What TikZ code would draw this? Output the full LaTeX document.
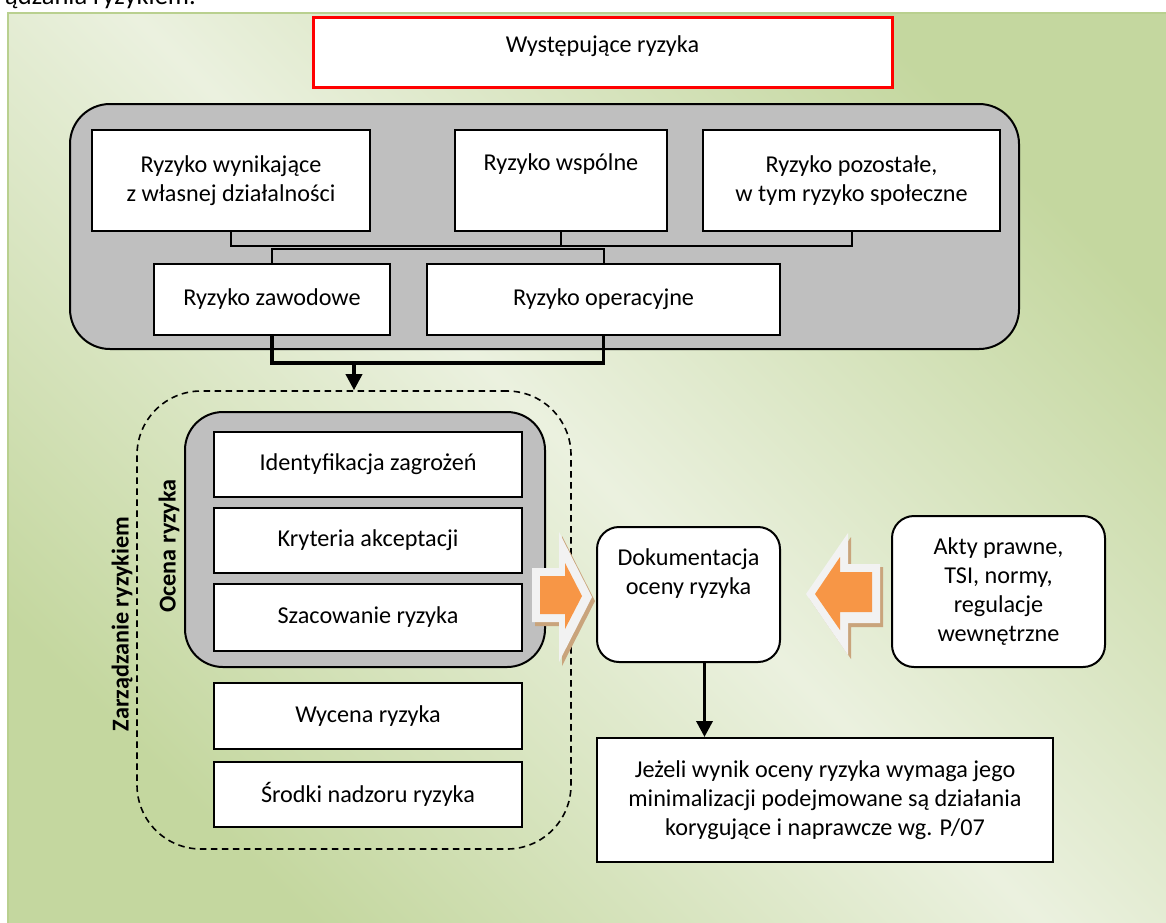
\documentclass[tikz,border=0pt]{standalone}
\usepackage{fontspec}
\setmainfont{Carlito}
\usetikzlibrary{arrows.meta}

\definecolor{bgdark}{HTML}{C4D79F}
\definecolor{bglight}{HTML}{EBF1DF}
\definecolor{framegreen}{HTML}{B9D08F}
\definecolor{panelgray}{HTML}{BFBFBF}
\definecolor{arrowfill}{HTML}{F79646}
\definecolor{arrowrim}{HTML}{F2F2F2}
\definecolor{arrowshadow}{HTML}{C9A47C}

\begin{document}
\begin{tikzpicture}[x=1pt,y=-1pt,
  every node/.style={font=\fontsize{24.2}{29}\selectfont},
  box/.style={draw=black, line width=2pt, fill=white, inner sep=0pt},
  rbox/.style={box, rounded corners=22pt},
  panelbox/.style={draw=black, line width=2pt, fill=panelgray, inner sep=0pt},
  dashbox/.style={draw=black, line width=1.6pt, dash pattern=on 6.5pt off 4.5pt,
                  rounded corners=64pt, inner sep=0pt},
  lbl/.style={align=center, inner sep=0pt},
  side/.style={lbl, rotate=90, font=\fontsize{24.2}{29}\selectfont\bfseries},
  bus/.style={line width=2pt},
  link/.style={line width=3.5pt},
  flow/.style={line width=3.5pt, -{Triangle[length=16pt,width=16pt]}},
  rim/.style={fill=arrowrim},
  core/.style={fill=arrowfill},
  shadow/.style={fill=arrowshadow},
]
\useasboundingbox (0,0) rectangle (1166,922);

% page background panel
\shade[top color=bgdark, bottom color=bgdark, middle color=bglight, shading angle=-45]
  (8,13) rectangle (1172,928);
\draw[framegreen, line width=2pt] (8,13) rectangle (1172,928);

% running text cut by the top edge
\node[anchor=base east, inner sep=0pt, font=\fontsize{26.5}{30}\selectfont] (caption) at (196,4) {ądzania ryzykiem.};

% heading
\node[draw=red, line width=3pt, fill=white, minimum width=579, minimum height=70, inner sep=0pt] (head) at (602.5,52) {};
\node[lbl] (headtxt) at (602.5,46) {Występujące ryzyka};

% group of risk types
\node[panelbox, rounded corners=40pt, minimum width=949, minimum height=245] (grp) at (544.5,226.5) {};

\node[box, minimum width=278, minimum height=101, align=center] (own) at (231,180.5)
  {Ryzyko wynikające\\z własnej działalności};
\node[box, minimum width=212, minimum height=101] (shared) at (561,180.5) {};
\node[lbl] (sharedtxt) at (561,164) {Ryzyko wspólne};
\node[box, minimum width=297, minimum height=101, align=center] (rest) at (851.5,180.5)
  {Ryzyko pozostałe,\\w tym ryzyko społeczne};

\node[box, minimum width=236, minimum height=71] (prof) at (272,299.5) {Ryzyko zawodowe};
\node[box, minimum width=353, minimum height=71] (oper) at (603.5,299.5) {Ryzyko operacyjne};

% buses between the rows
\coordinate (busA) at (231,246);
\coordinate (busB) at (272,249);
\draw[bus] (own.south) -- (busA) -- (rest.south |- busA) -- (rest.south);
\draw[bus] (shared.south) -- (shared.south |- busA);
\draw[bus] (prof.north) -- (busB) -- (oper.north |- busB) -- (oper.north);

% risk management area
\node[dashbox, minimum width=434, minimum height=458] (mgmt) at (354,620) {};

\coordinate (join) at (272,363);
\draw[link] (prof.south) -- (join) -- (oper.south |- join) -- (oper.south);
\draw[flow] (mgmt.north |- join) -- (mgmt.north);

\node[panelbox, rounded corners=38pt, minimum width=360, minimum height=255] (assess) at (365,539.5) {};
\node[box, minimum width=308, minimum height=65] (ident) at (368,464.5) {Identyfikacja zagrożeń};
\node[box, minimum width=308, minimum height=65] (crit)  at (368,540.5) {Kryteria akceptacji};
\node[box, minimum width=308, minimum height=67] (estim) at (368,617.5) {Szacowanie ryzyka};
\node[box, minimum width=308, minimum height=66] (value) at (368,716) {Wycena ryzyka};
\node[box, minimum width=308, minimum height=65] (ctrl)  at (368,794.5) {Środki nadzoru ryzyka};

\node[side] (assesslbl) at (169,546) {Ocena ryzyka};
\node[side] (mgmtlbl) at (122,624) {Zarządzanie ryzykiem};

% documentation and sources
\node[rbox, minimum width=183, minimum height=135] (doc) at (688.5,594.5) {};
\node[lbl] (doctxt) at (688.5,574) {Dokumentacja\\oceny ryzyka};
\node[rbox, minimum width=213, minimum height=151, align=center] (law) at (998.5,591.5)
  {Akty prawne,\\TSI, normy,\\regulacje\\wewnętrzne};
\node[box, minimum width=456, minimum height=124, align=center] (result) at (825,800)
  {Jeżeli wynik oceny ryzyka wymaga jego\\minimalizacji podejmowane są działania\\korygujące i naprawcze wg. P/07};

\draw[flow] ([xshift=16pt]doc.south) -- ([xshift=16pt]doc.south |- result.north);

% block arrow into the documentation, from the left
\fill[shadow] (535,572) -- (562,572) -- (562,536) -- (595,601) -- (562,666) -- (562,626) -- (535,626) -- cycle;
\fill[rim]  (532,568) -- (559,568) -- (559,532) -- (592,597) -- (559,662) -- (559,622) -- (532,622) -- cycle;
\fill[core] (540,576) -- (565,576) -- (565,563) -- (582,596) -- (565,629) -- (565,614) -- (540,614) -- cycle;

% block arrow into the documentation, from the right
\fill[shadow] (809,598) -- (851,537) -- (851,567) -- (883,567) -- (883,627) -- (851,627) -- (851,659) -- cycle;
\fill[rim]  (806,594) -- (848,533) -- (848,564) -- (880,564) -- (880,623) -- (848,623) -- (848,655) -- cycle;
\fill[core] (815,594) -- (840,557) -- (840,572) -- (872,572) -- (872,612) -- (840,612) -- (840,630) -- cycle;
\end{tikzpicture}
\end{document}
